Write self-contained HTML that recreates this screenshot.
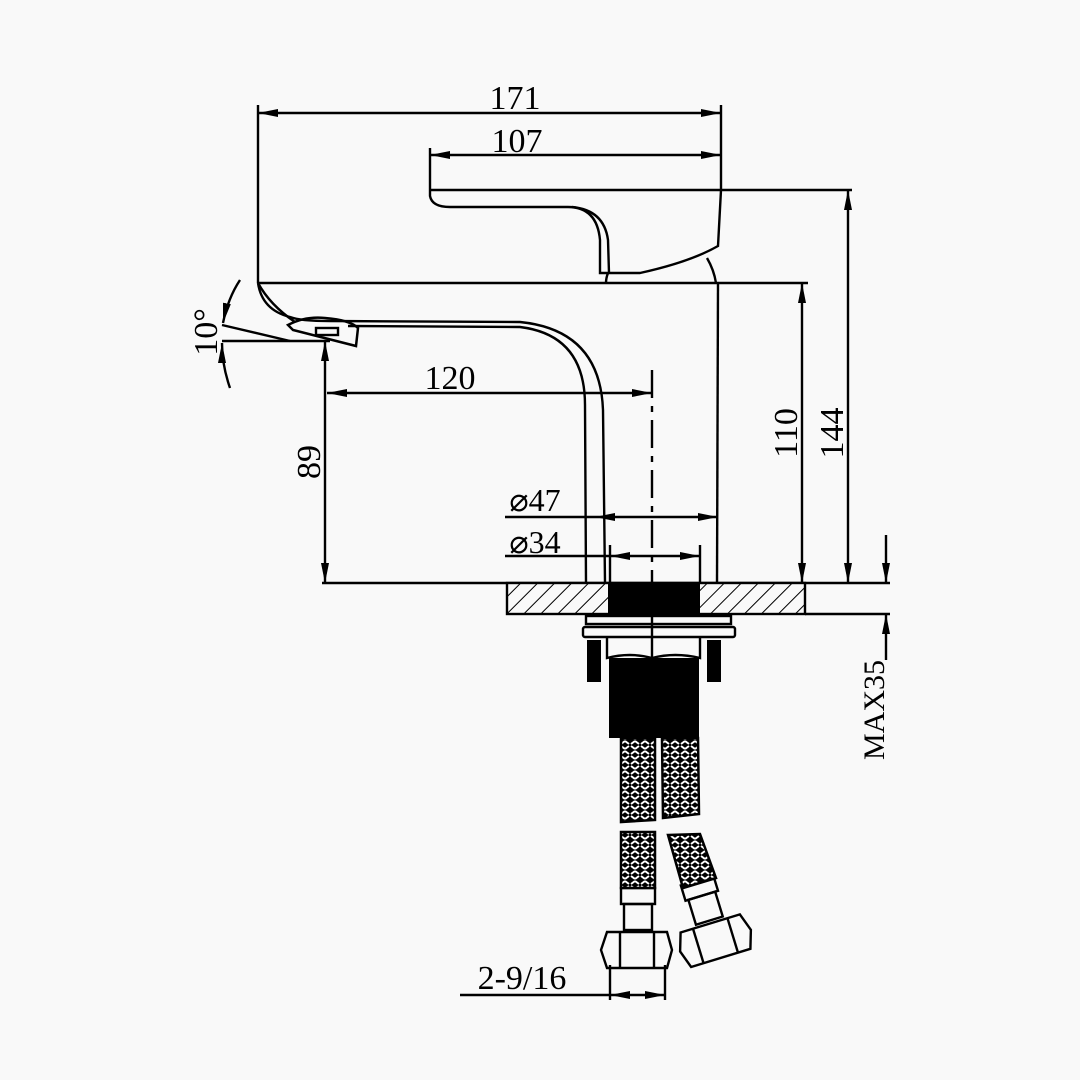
<!DOCTYPE html>
<html><head><meta charset="utf-8"><style>
html,body{margin:0;padding:0;background:#f9f9f9}
svg{display:block}
text{font-family:"Liberation Serif",serif;fill:#000}
</style></head><body>
<svg width="1080" height="1080" viewBox="0 0 1080 1080" xmlns="http://www.w3.org/2000/svg">
<defs>
<marker id="a" viewBox="0 0 20 8" refX="20" refY="4" markerWidth="20" markerHeight="8" markerUnits="userSpaceOnUse" orient="auto-start-reverse"><path d="M0,0 L20,4 L0,8 Z" fill="#000"/></marker>
<pattern id="h" width="12" height="12" patternUnits="userSpaceOnUse" patternTransform="rotate(45)"><rect width="12" height="12" fill="#f9f9f9"/><line x1="0" y1="0" x2="0" y2="12" stroke="#000" stroke-width="2"/></pattern>
<pattern id="b" width="10" height="10" patternUnits="userSpaceOnUse"><rect width="10" height="10" fill="#000"/><path d="M1,4 L5,1 M5,9 L9,6 M1,6 L5,9 M5,1 L9,4" stroke="#fff" stroke-width="2"/></pattern>
</defs>
<rect width="1080" height="1080" fill="#f9f9f9"/>
<g stroke="#000" stroke-width="2.4" fill="none">
<line x1="258" y1="105" x2="258" y2="283"/>
<line x1="721" y1="105" x2="721" y2="190"/>
<line x1="258" y1="113" x2="721" y2="113" marker-start="url(#a)" marker-end="url(#a)"/>
<line x1="430" y1="148" x2="430" y2="190"/>
<line x1="430" y1="155" x2="721" y2="155" marker-start="url(#a)" marker-end="url(#a)"/>
<line x1="430" y1="190" x2="852" y2="190"/>
<path d="M430,190 L430,196 Q432,207 450,207 L568,207 Q597,207 600,240 L600,273 L640,273 Q690,262 718,246 L721,190"/>
<path d="M572,207 Q604,210 608,240 L609,273"/>
<path d="M608,273 Q606,278 606,283"/>
<path d="M707,258 Q714,270 716,283"/>
<line x1="258" y1="283" x2="808" y2="283"/>
<line x1="718" y1="283" x2="717" y2="583"/>
<path d="M258,283 Q262,310 290,317 Q300,321 330,321 L520,322 Q600,330 603,410 L605,583"/>
<path d="M348,326 L520,327 Q585,335 585,405 L586,583"/>
<path d="M258,283 Q270,305 295,322"/>
<path d="M288,325 Q305,316 325,318 Q350,320 358,328 L356,346 L293,330 Z" stroke-width="2.5"/>
<rect x="316" y="328" width="22" height="7"/>
<line x1="222" y1="325" x2="290" y2="341"/>
<line x1="222" y1="341" x2="330" y2="341"/>
<path d="M240,280 Q228,298 223,323" marker-end="url(#a)"/>
<path d="M230,388 Q222,365 222,343" marker-end="url(#a)"/>
<line x1="327" y1="393" x2="652" y2="393" marker-start="url(#a)" marker-end="url(#a)"/>
<line x1="652" y1="370" x2="652" y2="583" stroke-dasharray="28,8,6,8"/>
<line x1="325" y1="341" x2="325" y2="583" marker-start="url(#a)" marker-end="url(#a)"/>
<line x1="802" y1="283" x2="802" y2="583" marker-start="url(#a)" marker-end="url(#a)"/>
<line x1="848" y1="190" x2="848" y2="583" marker-start="url(#a)" marker-end="url(#a)"/>
<line x1="505" y1="517" x2="595" y2="517"/>
<line x1="595" y1="517" x2="718" y2="517" marker-start="url(#a)" marker-end="url(#a)"/>
<line x1="505" y1="556" x2="610" y2="556"/>
<line x1="610" y1="556" x2="700" y2="556" marker-start="url(#a)" marker-end="url(#a)"/>
<line x1="610" y1="545" x2="610" y2="583"/>
<line x1="700" y1="545" x2="700" y2="583"/>
<line x1="322" y1="583" x2="890" y2="583"/>
<line x1="805" y1="614" x2="890" y2="614"/>
<rect x="507" y="583" width="298" height="31" fill="url(#h)"/>
<line x1="886" y1="535" x2="886" y2="583" marker-end="url(#a)"/>
<line x1="886" y1="660" x2="886" y2="614" marker-end="url(#a)"/>
<rect x="586" y="616" width="145" height="8"/>
<rect x="583" y="627" width="152" height="10" rx="2"/>
<path d="M607,637 L607,658 Q630,652 652,658 Q675,652 700,658 L700,637"/>
<line x1="652" y1="616" x2="652" y2="658"/>
<line x1="610" y1="965" x2="610" y2="1000"/>
<line x1="665" y1="965" x2="665" y2="1000"/>
<line x1="460" y1="995" x2="610" y2="995"/>
<line x1="610" y1="995" x2="665" y2="995" marker-start="url(#a)" marker-end="url(#a)"/>
<rect x="621" y="888" width="34" height="16"/>
<rect x="624" y="904" width="28" height="26"/>
<path d="M607,932 L667,932 L672,950 L667,968 L607,968 L601,950 Z"/>
<line x1="620" y1="932" x2="620" y2="968"/><line x1="654" y1="932" x2="654" y2="968"/>
<g transform="translate(700,890) rotate(-17)">
<rect x="-17" y="-10" width="34" height="16"/>
<rect x="-14" y="6" width="28" height="26"/>
<path d="M-31,35 L31,35 L37,53 L31,71 L-31,71 L-37,53 Z"/>
<line x1="-18" y1="35" x2="-18" y2="71"/><line x1="18" y1="35" x2="18" y2="71"/>
</g>
</g>
<rect x="608" y="583" width="92" height="31" fill="#000"/>
<rect x="609" y="658" width="90" height="80" fill="#000"/>
<rect x="587" y="640" width="14" height="42" fill="#000"/>
<rect x="707" y="640" width="14" height="42" fill="#000"/>
<path d="M621,738 L655,738 L655,820 L621,822 Z" fill="url(#b)" stroke="#000" stroke-width="2.5"/>
<path d="M662,738 L698,738 L699,814 L663,818 Z" fill="url(#b)" stroke="#000" stroke-width="2.5"/>
<path d="M621,832 L655,832 L655,888 L621,888 Z" fill="url(#b)" stroke="#000" stroke-width="2.5"/>
<path d="M668,835 L700,834 L716,878 L683,888 Z" fill="url(#b)" stroke="#000" stroke-width="2.5"/>
<text x="515" y="109" font-size="34" text-anchor="middle">171</text>
<text x="517" y="152" font-size="34" text-anchor="middle">107</text>
<text x="450" y="389" font-size="34" text-anchor="middle">120</text>
<text transform="translate(320,462) rotate(-90)" font-size="34" text-anchor="middle">89</text>
<text transform="translate(797,433) rotate(-90)" font-size="34" text-anchor="middle">110</text>
<text transform="translate(843,433) rotate(-90)" font-size="34" text-anchor="middle">144</text>
<text transform="translate(217,332) rotate(-90)" font-size="34" text-anchor="middle">10°</text>
<text transform="translate(884,710) rotate(-90)" font-size="30" text-anchor="middle">MAX35</text>
<text x="535" y="511" font-size="32" text-anchor="middle">⌀47</text>
<text x="535" y="553" font-size="32" text-anchor="middle">⌀34</text>
<text x="522" y="989" font-size="34" text-anchor="middle">2-9/16</text>
</svg>
</body></html>
